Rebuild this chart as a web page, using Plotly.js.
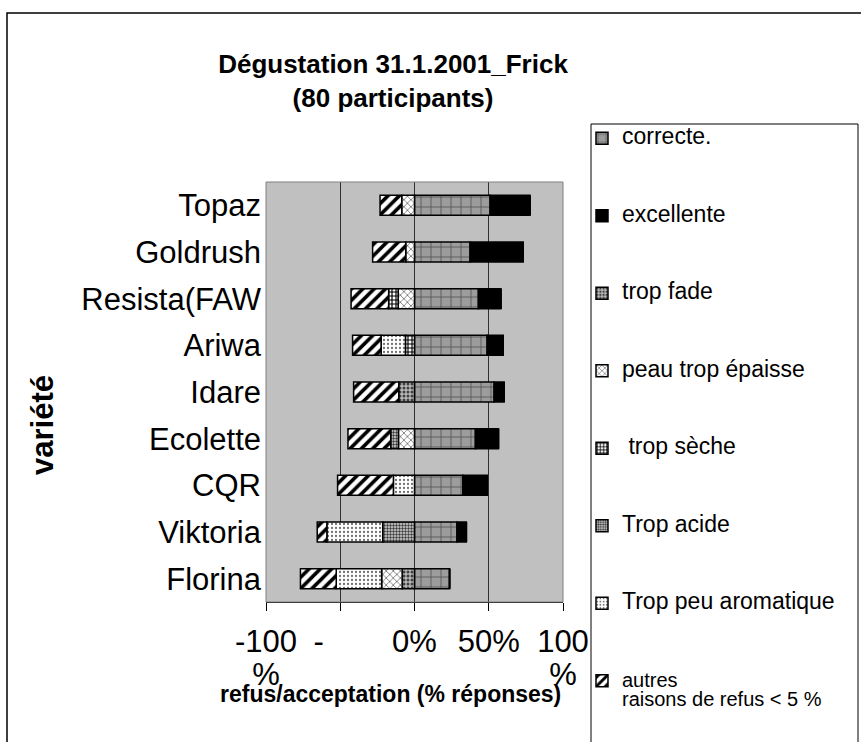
<!DOCTYPE html>
<html>
<head>
<meta charset="utf-8">
<script src="https://cdn.plot.ly/plotly-3.0.1.min.js"></script>
<style>html,body{margin:0;padding:0;background:#fff;}#chart{width:861px;height:742px;}</style>
</head>
<body>
<div id="chart"></div>
<script>
// ---- data (percent of answers; refusals negative, acceptance positive) ----
const varieties = ["Topaz", "Goldrush", "Resista(FAW", "Ariwa", "Idare", "Ecolette", "CQR", "Viktoria", "Florina"];
const correcte      = [50.9, 37.4, 43.0, 48.9, 53.6, 41.0, 32.6, 28.6, 23.6];
const excellente    = [26.8, 35.8, 15.1, 10.8, 6.8, 15.5, 16.4, 6.3, 0];
const tropFade      = [0, 0, 0, 0, -10.6, 0, 0, 0, -8.3];
const peauEpaisse   = [-8.6, -5.9, -11.0, 0, 0, -10.8, 0, 0, -13.8];
const tropSeche     = [0, 0, -6.4, -6.1, 0, 0, 0, 0, 0];
const tropAcide     = [0, 0, 0, 0, 0, -5.2, 0, -21.4, 0];
const peuAromatique = [0, 0, 0, -16.4, 0, 0, -14.2, -37.6, -30.6];
const autres        = [-14.6, -22.3, -25.3, -19.2, -30.4, -28.8, -37.6, -6.5, -24.1];

const seriesNames = [["correcte."], ["excellente"], ["trop fade"], ["peau trop épaisse"], [" trop sèche"],
                     ["Trop acide"], ["Trop peu aromatique"], ["autres", "raisons de refus &lt; 5 %"]];
const tickVals  = [-100, -50, 0, 50, 100];
// tick labels as wrapped in the original (one entry per line)
const tickLines = [["-100", "%"], ["-\u00a0\u00a0\u00a0\u00a0\u00a0"], ["0%"], ["50%"], ["100", "%"]];

const FONT = "Liberation Sans, Arial, Helvetica, sans-serif";
const span = (t, s) => `<span style="font-size:${s}px">${t}</span>`;
const tickTexts = tickLines.map(lines => lines.map(t => span(t, 31)).join("<br>"));
const legendNames = seriesNames.map(lines => lines.map(t => span(t, lines.length > 1 ? 20 : 23)).join("<br>"));

const seriesValues = [correcte, excellente, tropFade, peauEpaisse, tropSeche, tropAcide, peuAromatique, autres];
const patterns = [
  {shape: "+", fgcolor: "#505050", bgcolor: "#9c9c9c", size: 10, solidity: 0.15},
  null,
  {shape: ".", fgcolor: "#404040", bgcolor: "#b8b8b8", size: 4, solidity: 0.45},
  {shape: "x", fgcolor: "#222222", bgcolor: "#ffffff", size: 5, solidity: 0.2},
  {shape: "+", fgcolor: "#000000", bgcolor: "#ffffff", size: 4, solidity: 0.5},
  {shape: ".", fgcolor: "#3a3a3a", bgcolor: "#d8d8d8", size: 3, solidity: 0.5},
  {shape: ".", fgcolor: "#707070", bgcolor: "#ffffff", size: 4, solidity: 0.25},
  {shape: "/", fgcolor: "#000000", bgcolor: "#ffffff", size: 8, solidity: 0.45}
];

const traces = seriesValues.map((vals, i) => {
  const marker = {color: patterns[i] ? patterns[i].bgcolor : "#000000",
                  line: {color: "#000000", width: 1.5}};
  if (patterns[i]) marker.pattern = Object.assign({fillmode: "replace"}, patterns[i]);
  return {
    type: "bar", orientation: "h",
    x: vals, y: varieties,
    name: legendNames[i], legendgroup: "g" + i,
    marker: marker, hoverinfo: "skip"
  };
});

// layout pixel helpers (plot area: x 266..563, y 182..602)
const L = 266, R = 563, T = 182, B = 602;
const px = v => (v - L) / (R - L);
const py = v => (B - v) / (B - T);

const layout = {
  width: 861, height: 742,
  margin: {l: L, r: 861 - R, t: T, b: 742 - B, pad: 0, autoexpand: false},
  paper_bgcolor: "#ffffff", plot_bgcolor: "#c0c0c0",
  barmode: "relative", bargap: 0.57,
  font: {family: FONT, color: "#000000"},
  title: {text: "<b>Dégustation 31.1.2001_Frick<br>(80 participants)</b>",
          font: {size: 26, family: FONT, color: "#000"},
          xref: "paper", x: px(393), xanchor: "center",
          yref: "container", y: 1 - 73 / 742, yanchor: "middle"},
  xaxis: {range: [-100, 100], tickvals: tickVals, ticktext: tickTexts,
          showgrid: true, gridcolor: "#303030", gridwidth: 1,
          zeroline: false, showline: true, linecolor: "#000", linewidth: 1,
          ticks: "outside", ticklen: 8, tickcolor: "#000", tickwidth: 1,
          ticklabelstandoff: 11,
          tickfont: {size: 25, family: FONT}, fixedrange: true},
  yaxis: {type: "category", autorange: "reversed", showgrid: false, zeroline: false,
          showline: false, ticks: "", ticklabelstandoff: 4,
          tickfont: {size: 31, family: FONT}, fixedrange: true},
  showlegend: true,
  legend: {x: px(582), xanchor: "left", y: py(122), yanchor: "top",
           traceorder: "grouped", tracegroupgap: 55, valign: "top",
           maxheight: 1000,
           bgcolor: "rgba(0,0,0,0)", borderwidth: 0,
           font: {size: 15, family: FONT, color: "#000"}},
  annotations: [
    {text: "<b>refus/acceptation (% réponses)</b>", xref: "paper", yref: "paper",
     x: px(390), y: py(694), xanchor: "center", yanchor: "middle", showarrow: false,
     font: {size: 23, family: FONT, color: "#000"}},
    {text: "<b>variété</b>", xref: "paper", yref: "paper", textangle: -90,
     x: px(42), y: py(425), xanchor: "center", yanchor: "middle", showarrow: false,
     font: {size: 31, family: FONT, color: "#000"}}
  ],
  shapes: [
    // plot area border
    {type: "rect", xref: "paper", yref: "paper", x0: 0, x1: 1, y0: 0, y1: 1,
     line: {color: "#808080", width: 1}, fillcolor: "rgba(0,0,0,0)", layer: "above"},
    // outer chart frame (left and top edges visible)
    {type: "path", xref: "paper", yref: "paper",
     path: `M ${px(7)} ${py(760)} L ${px(7)} ${py(13)} L ${px(880)} ${py(13)}`,
     line: {color: "#000", width: 1.5}, layer: "above"},
    // legend box
    {type: "rect", xref: "paper", yref: "paper", x0: px(591), x1: px(858), y0: py(760), y1: py(124),
     line: {color: "#000", width: 1}, fillcolor: "#ffffff", layer: "above"}
  ]
};

Plotly.newPlot("chart", traces, layout, {displayModeBar: false, staticPlot: true});
</script>
</body>
</html>
